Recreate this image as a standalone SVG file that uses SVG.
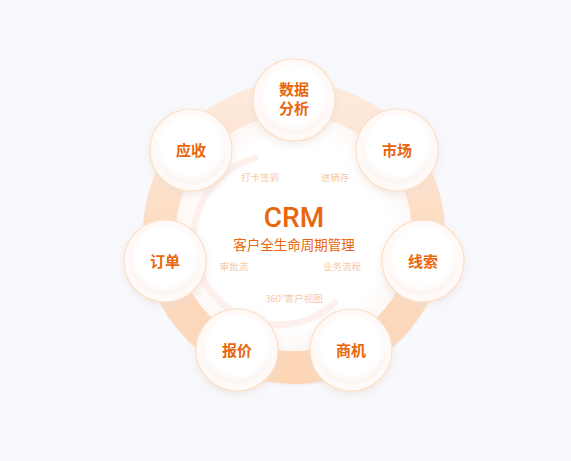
<svg xmlns="http://www.w3.org/2000/svg" width="571" height="461" viewBox="0 0 571 461">
<defs>
<style>
.lbl{font-family:"Noto Sans CJK SC","Noto Sans",sans-serif;font-size:15px;font-weight:600;fill:#e8660c;text-anchor:middle}
.sm{font-family:"Noto Sans CJK SC","Noto Sans",sans-serif;font-size:9.5px;fill:#f6c9a6;text-anchor:middle}
</style>
<linearGradient id="ringG" x1="0" y1="0" x2="0" y2="1">
<stop offset="0" stop-color="#feeadb"/>
<stop offset="0.5" stop-color="#fddcc2"/>
<stop offset="1" stop-color="#fdd6b6"/>
</linearGradient>
<radialGradient id="nodeIn" cx="0.5" cy="0.45" r="0.55">
<stop offset="0.75" stop-color="#ffffff"/>
<stop offset="1" stop-color="#fbf3ee"/>
</radialGradient>
<radialGradient id="innerG" cx="0.5" cy="0.5" r="0.5">
<stop offset="0.8" stop-color="#ffffff"/>
<stop offset="1" stop-color="#fdf8f5"/>
</radialGradient>
<filter id="sh" x="-30%" y="-30%" width="160%" height="160%">
<feDropShadow dx="0" dy="3" stdDeviation="4" flood-color="#e9dcd4" flood-opacity="0.6"/>
</filter>
<g id="node">
<circle r="41" fill="#fffaf7" stroke="#fde0c8" stroke-width="1.2" filter="url(#sh)"/>
<circle r="35" cy="-1" fill="url(#nodeIn)"/>
</g>
</defs>
<rect width="571" height="461" fill="#f8f9fd"/>
<g id="ring">
<circle cx="294" cy="235" r="151" fill="#eceef4" opacity="0.6"/>
<circle cx="294" cy="233" r="134.5" fill="none" stroke="url(#ringG)" stroke-width="33"/>
<circle cx="294" cy="233" r="118" fill="url(#innerG)"/>
<path d="M255 158 A85 85 0 1 0 335 303" fill="none" stroke="#fdf0ed" stroke-width="7" stroke-linecap="round"/>
</g>
<g id="center">
<text x="294" y="227" font-family="Roboto,'Liberation Sans',Arial,sans-serif" font-size="28" font-weight="500" fill="#e8660c" text-anchor="middle">CRM</text>
<text x="294" y="250" font-family="'Noto Sans CJK SC','Noto Sans',sans-serif" font-size="13.5" fill="#e8660c" text-anchor="middle">客户全生命周期管理</text>
<text class="sm" x="260" y="181">打卡签到</text>
<text class="sm" x="335" y="181">进销存</text>
<text class="sm" x="234" y="270">审批流</text>
<text class="sm" x="342" y="270">业务流程</text>
<text class="sm" x="294" y="302">360°客户视图</text>
</g>
<g id="connectors"></g>
<g id="n-data"><use href="#node" x="294" y="100"/><text class="lbl" x="294" y="95">数据</text><text class="lbl" x="294" y="114">分析</text></g>
<g id="n-market"><use href="#node" x="397" y="150"/><text class="lbl" x="397" y="156">市场</text></g>
<g id="n-lead"><use href="#node" x="423" y="261"/><text class="lbl" x="423" y="267">线索</text></g>
<g id="n-opp"><use href="#node" x="351" y="350"/><text class="lbl" x="351" y="356">商机</text></g>
<g id="n-quote"><use href="#node" x="237" y="350"/><text class="lbl" x="237" y="356">报价</text></g>
<g id="n-order"><use href="#node" x="165" y="261"/><text class="lbl" x="165" y="267">订单</text></g>
<g id="n-recv"><use href="#node" x="191" y="150"/><text class="lbl" x="191" y="156">应收</text></g>
</svg>
